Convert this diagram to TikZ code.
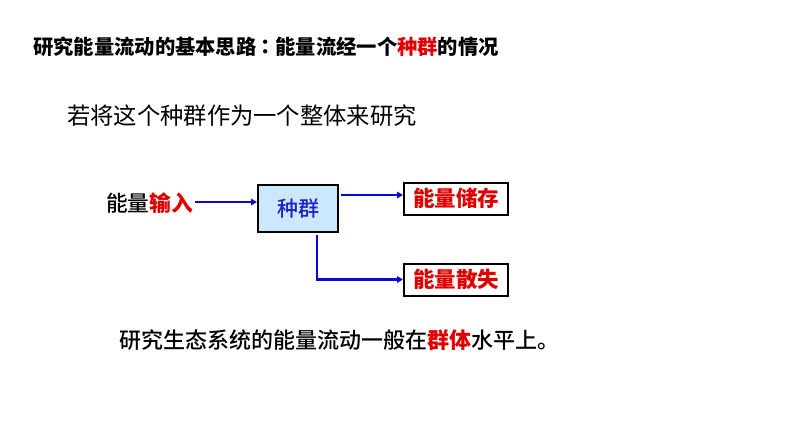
\documentclass[tikz,border=0pt]{standalone}
\usepackage{fontspec}
\setmainfont{Noto Sans CJK SC}
\newfontfamily\medfont{Noto Sans CJK SC}[UprightFont=* Medium]
\newfontfamily\tcfont{Noto Sans CJK TC}[UprightFont=* Bold]
\usetikzlibrary{arrows.meta}
\definecolor{hred}{HTML}{E00000}
\definecolor{arrblue}{HTML}{0A0ACC}
\definecolor{boxfill}{HTML}{CCE8FF}
\definecolor{boxtext}{HTML}{2222C0}
\tikzset{
  txt/.style={anchor=west, inner sep=0pt, text=black},
  arr/.style={draw=arrblue, line width=2.6pt, -{Triangle[length=6pt,width=6.5pt]}},
  popbox/.style={draw=black, line width=2pt, fill=boxfill, minimum width=80pt, minimum height=47pt, inner sep=0pt, text=boxtext, font=\medfont\fontsize{21}{21}\selectfont},
  outbox/.style={draw=black, line width=2pt, fill=white, minimum width=104pt, minimum height=32pt, inner sep=0pt, text=hred, font=\bfseries\fontsize{21.5}{21.5}\selectfont}
}
\begin{document}
\begin{tikzpicture}[x=1pt,y=-1pt]
\useasboundingbox[fill=white] (0,0) rectangle (794,447);
\node[txt, font=\bfseries\fontsize{20.3}{20.3}\selectfont] (title) at (33,47) {研究能量流动的基本思路\makebox[19pt][c]{\tcfont ：}能量流经一个{\color{hred}种群}的情况};
\node[txt, font=\fontsize{23.3}{23.3}\selectfont] (sub) at (67,116) {若将这个种群作为一个整体来研究};
\node[txt, font=\medfont\fontsize{21.7}{21.7}\selectfont] (in) at (106,203) {能量{\color{hred}\bfseries 输入}};
\node[popbox] (pop) at (298,208.5) {种群};
\node[outbox] (store) at (456,198.5) {能量储存};
\node[outbox] (loss) at (456,279.5) {能量散失};
\node[txt, font=\medfont\fontsize{22}{22}\selectfont] (bottom) at (119,340) {研究生态系统的能量流动一般在{\color{hred}\bfseries 群体}水平上。};
\coordinate (inA) at (in.east |- 0,202);
\coordinate (popA) at (pop.west |- 0,202);
\coordinate (popB) at (pop.east |- 0,195);
\coordinate (storeB) at (store.west |- 0,195);
\coordinate (popC) at (317,235);
\draw[arr] ([xshift=2pt]inA) -- (popA);
\draw[arr] ([xshift=2pt]popB) -- (storeB);
\draw[arr] (popC) |- (loss.west);
\end{tikzpicture}
\end{document}
